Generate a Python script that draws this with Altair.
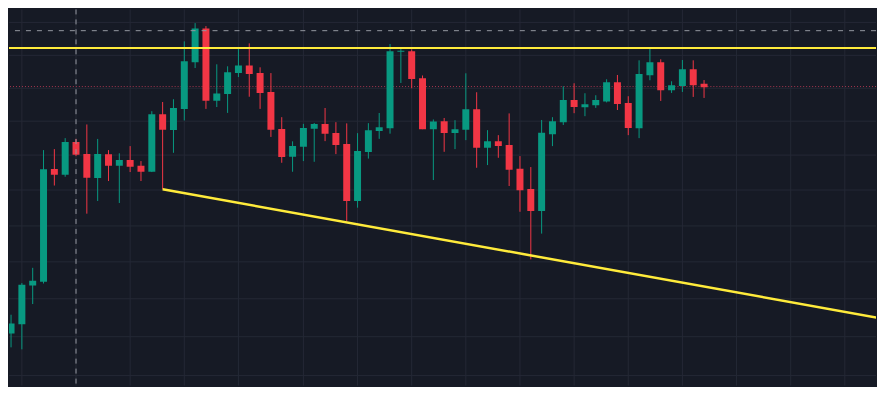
import altair as alt
import pandas as pd

# Candle OHLC values (index 0..65)
opens = [109.13, 106.03, 106.95, 110.83, 111.20, 122.50, 121.92, 125.22, 124.00, 121.60,
         123.98, 122.83, 123.40, 122.83, 122.23, 128.00, 126.42, 128.53, 133.20, 136.60,
         129.35, 130.03, 132.13, 132.88, 132.13, 130.22, 126.52, 123.73, 124.73, 126.53,
         127.02, 126.12, 125.00, 119.30, 124.20, 126.32, 126.60, 134.25, 134.30, 131.60,
         126.50, 127.30, 126.12, 126.43, 128.50, 124.63, 125.30, 124.90, 122.52, 120.50,
         118.30, 126.00, 127.20, 129.42, 128.70, 128.90, 129.28, 131.20, 129.12, 126.60,
         131.90, 133.20, 130.40, 130.83, 132.50, 131.05]
highs = [109.40, 107.90, 111.07, 112.60, 124.40, 124.50, 125.60, 125.53, 126.97, 125.52,
         124.40, 124.08, 124.80, 123.30, 128.30, 129.22, 129.50, 135.30, 137.13, 136.83,
         133.00, 132.80, 134.63, 135.10, 132.70, 132.12, 127.70, 125.28, 127.03, 127.12,
         128.62, 127.20, 127.08, 126.10, 127.10, 128.12, 135.03, 134.55, 134.50, 131.88,
         127.47, 127.62, 127.40, 132.10, 130.20, 126.40, 125.90, 128.08, 123.80, 122.70,
         127.42, 127.70, 130.80, 131.10, 130.10, 129.90, 131.50, 131.93, 129.80, 133.40,
         134.73, 133.50, 131.30, 133.43, 133.40, 131.42]
lows = [105.80, 104.63, 104.43, 108.97, 111.03, 120.85, 121.73, 123.80, 118.03, 119.30,
        121.30, 119.10, 122.20, 121.30, 122.20, 120.47, 124.13, 127.37, 132.63, 128.53,
        128.72, 128.13, 131.72, 129.75, 128.53, 125.72, 123.13, 122.23, 123.30, 123.23,
        125.30, 124.00, 117.30, 118.63, 123.55, 125.53, 126.05, 131.13, 130.60, 126.50,
        121.40, 124.23, 124.50, 125.40, 122.63, 122.90, 123.63, 120.80, 118.22, 113.45,
        116.03, 124.80, 126.92, 128.10, 127.80, 128.63, 129.18, 128.42, 125.90, 125.60,
        131.40, 129.33, 130.13, 130.23, 129.73, 129.63]
closes = [106.00, 107.03, 110.90, 111.30, 122.48, 121.93, 125.22, 123.93, 121.62, 124.02,
          122.83, 123.40, 122.73, 122.23, 128.00, 126.43, 128.62, 133.30, 136.60, 129.35,
          130.08, 132.20, 132.88, 132.03, 130.12, 126.43, 123.72, 124.80, 126.62, 127.02,
          126.03, 124.92, 119.30, 124.30, 126.40, 126.70, 134.30, 134.35, 131.52, 126.50,
          127.28, 126.12, 126.50, 128.50, 124.63, 125.30, 124.82, 122.42, 120.38, 118.30,
          126.13, 127.30, 129.42, 128.72, 129.00, 129.42, 131.20, 129.02, 126.62, 132.02,
          133.20, 130.40, 130.90, 132.50, 130.90, 130.70]

# Reference lines
grid_prices = [137.2, 133.9, 130.6, 127.3, 123.9, 120.4, 116.8, 113.2, 109.5, 105.7, 101.8]
grid_bars = [2, 7, 12, 17, 22, 28, 33, 38, 43, 48, 53, 58, 63, 68, 73, 78]
resistance_price = [134.63]
crosshair_price = [136.37]
crosshair_bar = [7]
last_price = [130.77]
trend_bars = [15, 82]
trend_prices = [120.47, 107.41]

GREEN = "#089981"
RED = "#F23645"
BG = "#161A25"
GRID = "#242835"

df = pd.DataFrame({"i": list(range(len(opens))), "o": opens, "h": highs, "l": lows, "c": closes})
df["dir"] = ["up" if c >= o else "down" for o, c in zip(opens, closes)]

xs = alt.Scale(domain=[0.811, 80.88], nice=False, zero=False, padding=0)
ys = alt.Scale(domain=[100.8, 138.5], nice=False, zero=False, padding=0)
cscale = alt.Scale(domain=["up", "down"], range=[GREEN, RED])

hgrid = alt.Chart(pd.DataFrame({"p": grid_prices})).mark_rule(color=GRID, strokeWidth=1).encode(
    y=alt.Y("p:Q", scale=ys, axis=None))
vgrid = alt.Chart(pd.DataFrame({"i": grid_bars})).mark_rule(color=GRID, strokeWidth=1).encode(
    x=alt.X("i:Q", scale=xs, axis=None))

lastline = alt.Chart(pd.DataFrame({"p": last_price})).mark_rule(
    color="#a8364f", strokeWidth=1, strokeDash=[1, 2]).encode(y=alt.Y("p:Q", scale=ys, axis=None))

base = alt.Chart(df)
wicks = base.mark_rule(strokeWidth=1, clip=True).encode(
    x=alt.X("i:Q", scale=xs, axis=None),
    y=alt.Y("l:Q", scale=ys, axis=None),
    y2="h:Q",
    color=alt.Color("dir:N", scale=cscale, legend=None))
bodies = base.mark_bar(width=7, clip=True).encode(
    x=alt.X("i:Q", scale=xs, axis=None),
    y=alt.Y("o:Q", scale=ys, axis=None),
    y2="c:Q",
    color=alt.Color("dir:N", scale=cscale, legend=None))

cross_h = alt.Chart(pd.DataFrame({"p": crosshair_price})).mark_rule(
    color="#9598A1", strokeWidth=1, strokeDash=[5, 6]).encode(y=alt.Y("p:Q", scale=ys, axis=None))
cross_v = alt.Chart(pd.DataFrame({"i": crosshair_bar})).mark_rule(
    color="#9598A1", strokeWidth=1, strokeDash=[5, 5]).encode(x=alt.X("i:Q", scale=xs, axis=None))

resist = alt.Chart(pd.DataFrame({"p": resistance_price})).mark_rule(
    color="#FFEB3B", strokeWidth=2).encode(y=alt.Y("p:Q", scale=ys, axis=None))
trend = alt.Chart(pd.DataFrame({"i": trend_bars, "p": trend_prices})).mark_line(
    color="#FFEB3B", strokeWidth=2.5, clip=True).encode(
    x=alt.X("i:Q", scale=xs, axis=None), y=alt.Y("p:Q", scale=ys, axis=None))

chart = alt.layer(hgrid, vgrid, lastline, wicks, bodies, cross_h, cross_v, resist, trend).properties(
    width=869, height=377, padding=0, background=BG
).configure_view(stroke=None)

chart.save("out.html", embed_options={"renderer": "svg", "actions": False})
